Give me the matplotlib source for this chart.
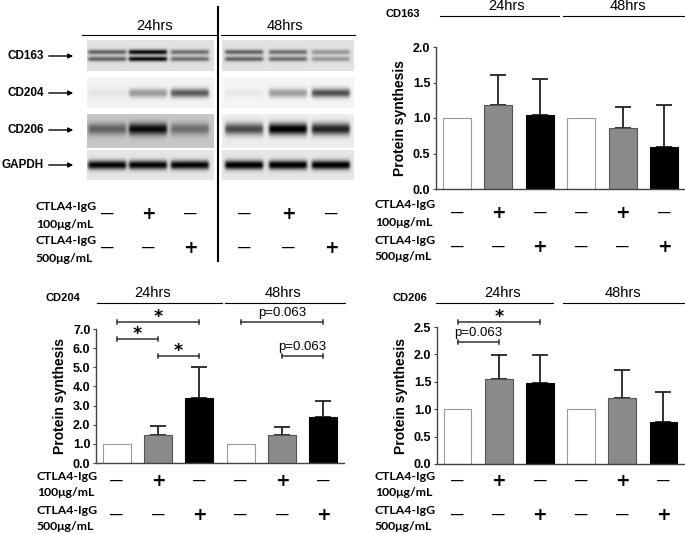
import numpy as np
import matplotlib.pyplot as plt
from matplotlib.transforms import blended_transform_factory

plt.rcParams['font.family'] = ['Liberation Sans', 'DejaVu Sans']

# data
groups = ['24hrs', '48hrs']
dose_100 = ['-', '+', '-', '-', '+', '-']
dose_500 = ['-', '-', '+', '-', '-', '+']
bar_colors = ['white', '#8a8a8a', 'black'] * 2
edge_colors = ['#9a9a9a', '#555555', 'black'] * 2

cd163_mean = [1.0, 1.18, 1.04, 1.0, 0.86, 0.59]
cd163_err = [0, 0.43, 0.51, 0, 0.29, 0.60]
cd204_mean = [1.0, 1.47, 3.38, 1.0, 1.45, 2.42]
cd204_err = [0, 0.46, 1.62, 0, 0.45, 0.82]
cd206_mean = [1.0, 1.55, 1.47, 1.0, 1.21, 0.76]
cd206_err = [0, 0.44, 0.51, 0, 0.50, 0.55]

# significance: (bar a, bar b, height, label)
cd204_sig = [(0, 2, 7.37, '*'), (0, 1, 6.48, '*'), (1, 2, 5.59, '*'),
             (3, 5, 7.37, 'p=0.063'), (4, 5, 5.59, 'p=0.063')]
cd206_sig = [(0, 2, 2.59, '*'), (0, 1, 2.23, 'p=0.063')]

# western blot band strength per lane (0 none .. 1 dark)
blot_rows = ['CD163', 'CD204', 'CD206', 'GAPDH']
blot_int = {
    'CD163': [0.5, 0.85, 0.45, 0.5, 0.45, 0.3],
    'CD204': [0.06, 0.35, 0.6, 0.05, 0.35, 0.65],
    'CD206': [0.4, 0.75, 0.35, 0.65, 0.95, 0.8],
    'GAPDH': [0.9, 0.9, 0.9, 0.95, 0.95, 0.95],
}

fig = plt.figure(figsize=(6.85, 5.34), dpi=100)
over = fig.add_axes([0, 0, 1, 1])
over.set_xlim(0, 685)
over.set_ylim(534, 0)
over.axis('off')

# ---- blot panel ----
lane_x = [107, 148, 190, 244, 288, 331]
halves = [(87, 214, [0, 1, 2]), (222, 354, [3, 4, 5])]
strips = {'CD163': (40, 71), 'CD204': (77, 108), 'CD206': (114, 148), 'GAPDH': (150, 180)}
bands = {'CD163': [(52, 2.5), (59, 2.5)], 'CD204': [(93, 4.5)],
         'CD206': [(129, 6.0)], 'GAPDH': [(165, 4.5)]}
bgs = {'CD163': (0.88, 0.88), 'CD204': (0.95, 0.96), 'CD206': (0.78, 0.93), 'GAPDH': (0.9, 0.9)}
label_y = {'CD163': 56, 'CD204': 93, 'CD206': 130, 'GAPDH': 165}

for name in blot_rows:
    y0, y1 = strips[name]
    for h, (x0, x1, lanes) in enumerate(halves):
        xs = np.linspace(x0, x1, (x1 - x0) * 2)
        ys = np.linspace(y0, y1, (y1 - y0) * 2)
        X, Y = np.meshgrid(xs, ys)
        img = np.full(X.shape, bgs[name][h])
        for k in lanes:
            cx = lane_x[k]
            mask = 1 / (1 + np.exp(-(X - (cx - 19)) * 1.2)) / (1 + np.exp((X - (cx + 19)) * 1.2))
            for by, bw in bands[name]:
                img -= blot_int[name][k] * np.exp(-((Y - by) / bw) ** 2) * mask
        over.imshow(np.clip(img, 0, 1), extent=(x0, x1, y1, y0), cmap='gray',
                    vmin=0, vmax=1, aspect='auto', interpolation='bilinear')
    over.text(44, label_y[name], name, ha='right', va='center', fontsize=8.5, fontweight='bold')
    over.annotate('', xy=(76, label_y[name]), xytext=(46, label_y[name]),
                  arrowprops=dict(arrowstyle='-|>', lw=1, color='black', mutation_scale=7))

over.set_xlim(0, 685)
over.set_ylim(534, 0)
over.plot([218, 218], [7, 261], color='black', lw=1.5)
for (x0, x1), g, cx in zip([(82, 217), (221, 355)], groups, [155, 285]):
    over.plot([x0, x1], [35, 35], color='black', lw=0.8)
    over.text(cx, 26, g, ha='center', va='center', fontsize=10.5)


def treatment_rows(xpos, trans, lx, ys):
    lab_font = dict(fontsize=8.8, fontweight='bold', family=['Lato', 'DejaVu Sans'])
    for dose, txt, (ya, yb, ys_) in zip([dose_100, dose_500], ['100μg/mL', '500μg/mL'], ys):
        over.text(lx, ya, 'CTLA4-IgG', ha='left', va='center', **lab_font)
        over.text(lx, yb, txt, ha='left', va='center', **lab_font)
        for x, s in zip(xpos, dose):
            if s == '+':
                over.text(x, ys_, '+', transform=trans, ha='center', va='center',
                          fontsize=12.5, fontweight='bold', family='DejaVu Sans')
            else:
                over.text(x, ys_, '—', transform=trans, ha='center', va='center',
                          fontsize=9, fontweight='bold')


treatment_rows(lane_x, over.transData, 36, [(206, 225, 214), (240, 258, 248)])


# ---- bar charts ----
def bar_panel(rect, mean, err, ymax, step, fmt, title, head):
    L, R, B, T = rect
    ax = fig.add_axes([L / 685, 1 - B / 534, (R - L) / 685, (B - T) / 534])
    x = np.arange(len(mean))
    ax.bar(x, mean, width=0.67, color=bar_colors, edgecolor=edge_colors, linewidth=0.8, zorder=2)
    idx = [i for i in x if err[i] > 0]
    ax.errorbar([x[i] for i in idx], [mean[i] for i in idx],
                yerr=[[0] * len(idx), [err[i] for i in idx]], fmt='none',
                ecolor='#222222', elinewidth=1.3, capsize=5.5, capthick=1.3, zorder=1)
    ax.set_xlim(-0.5, 5.5)
    ax.set_ylim(0, ymax)
    ax.set_yticks(np.arange(0, ymax + step / 2, step))
    ax.set_yticklabels([fmt % v for v in np.arange(0, ymax + step / 2, step)])
    ax.set_xticks([])
    for s in ['top', 'right']:
        ax.spines[s].set_visible(False)
    for s in ['left', 'bottom']:
        ax.spines[s].set_color('#444444')
        ax.spines[s].set_linewidth(1)
    ax.tick_params(axis='y', direction='out', length=2, width=0.8, color='#444444',
                   labelsize=9, pad=2)
    for t in ax.get_yticklabels():
        t.set_fontweight('bold')
    ax.set_ylabel('Protein synthesis', fontsize=10, fontweight='bold', labelpad=4)
    ty, ly, tx, lines, gx = head
    over.text(tx, ty + 5, title, ha='center', va='center', fontsize=8, fontweight='bold')
    for (x0, x1), g, cx in zip(lines, groups, gx):
        over.plot([x0, x1], [ly, ly], color='black', lw=0.8)
        over.text(cx, ly - 10, g, ha='center', va='center', fontsize=10.5)
    return ax


def sig_brackets(ax, sigs, tick):
    for a, b, y, lab in sigs:
        ax.plot([a, b], [y, y], color='#333333', lw=1.1, clip_on=False)
        for e in (a, b):
            ax.plot([e, e], [y - tick / 2, y + tick / 2], color='#333333', lw=1.1, clip_on=False)
        if lab == '*':
            ax.annotate('*', xy=((a + b) / 2, y), xytext=(0, 0), textcoords='offset points',
                        ha='center', va='baseline', fontsize=12.5, fontweight='bold',
                        family='DejaVu Sans', annotation_clip=False)
        else:
            ax.annotate(lab, xy=((a + b) / 2, y), xytext=(0, 4.5), textcoords='offset points',
                        ha='center', va='baseline', fontsize=9.5, annotation_clip=False)


axB = bar_panel((436, 685, 189, 47), cd163_mean, cd163_err, 2.0, 0.5, '%.1f', 'CD163',
                (9, 16, 403, [(440, 559), (563, 685)], [507, 628]))
axC = bar_panel((96, 344, 463, 329), cd204_mean, cd204_err, 7.0, 1.0, '%.1f', 'CD204',
                (293, 303, 63, [(97, 222), (225, 345)], [153, 283]))
axD = bar_panel((437, 684, 464, 327), cd206_mean, cd206_err, 2.5, 0.5, '%.1f', 'CD206',
                (293, 303, 410, [(436, 553), (563, 685)], [503, 623]))

sig_brackets(axC, cd204_sig, 0.21)
sig_brackets(axD, cd206_sig, 0.075)

x6 = np.arange(6)
treatment_rows(x6, blended_transform_factory(axB.transData, over.transData), 375,
               [(205, 222, 213), (240, 257, 247)])
treatment_rows(x6, blended_transform_factory(axC.transData, over.transData), 37,
               [(477, 493, 481), (511, 527, 515)])
treatment_rows(x6, blended_transform_factory(axD.transData, over.transData), 375,
               [(477, 493, 481), (511, 527, 515)])

fig.savefig('out.png', dpi=100)
